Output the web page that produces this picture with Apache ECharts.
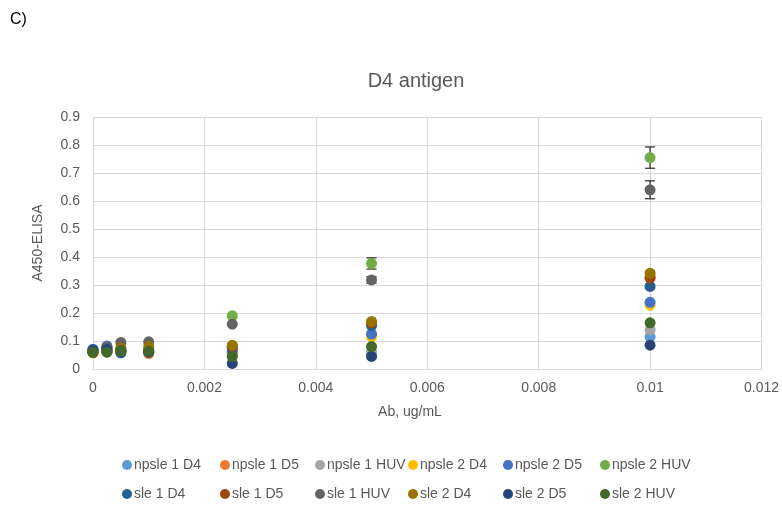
<!DOCTYPE html>
<html><head><meta charset="utf-8">
<script src="https://cdn.jsdelivr.net/npm/echarts@6/dist/echarts.min.js"></script>
<style>html,body{margin:0;padding:0;background:#fff;overflow:hidden}#c{width:782px;height:510px}</style>
</head><body><div id="c"></div>
<script>
const xValues = [0, 0.00025, 0.0005, 0.001, 0.0025, 0.005, 0.01];
const seriesNames = ['npsle 1 D4','npsle 1 D5','npsle 1 HUV','npsle 2 D4','npsle 2 D5','npsle 2 HUV',
                     'sle 1 D4','sle 1 D5','sle 1 HUV','sle 2 D4','sle 2 D5','sle 2 HUV'];
const npsle1D4  = [0.065, 0.070, 0.060, 0.065, 0.055, 0.055, 0.115];
const npsle1D5  = [0.060, 0.065, 0.065, 0.055, 0.080, 0.160, 0.330];
const npsle1HUV = [0.065, 0.070, 0.070, 0.070, 0.050, 0.060, 0.140];
const npsle2D4  = [0.060, 0.065, 0.060, 0.060, 0.060, 0.115, 0.228];
const npsle2D5  = [0.070, 0.082, 0.065, 0.065, 0.065, 0.125, 0.238];
const npsle2HUV = [0.060, 0.060, 0.065, 0.065, 0.190, 0.377, 0.755];
const sle1D4    = [0.070, 0.075, 0.058, 0.065, 0.075, 0.155, 0.295];
const sle1D5    = [0.060, 0.065, 0.065, 0.060, 0.080, 0.165, 0.325];
const sle1HUV   = [0.065, 0.078, 0.095, 0.097, 0.160, 0.318, 0.640];
const sle2D4    = [0.058, 0.065, 0.075, 0.080, 0.085, 0.170, 0.342];
const sle2D5    = [0.065, 0.070, 0.065, 0.060, 0.020, 0.045, 0.085];
const sle2HUV   = [0.060, 0.060, 0.065, 0.063, 0.045, 0.080, 0.165];
const errNpsle2HUV = [0, 0, 0, 0, 0, 0.020, 0.038];
const errSle1HUV   = [0, 0, 0, 0, 0, 0.012, 0.032];
const xTickLabels = ['0','0.002','0.004','0.006','0.008','0.01','0.012'];
const yTickLabels = ['0','0.1','0.2','0.3','0.4','0.5','0.6','0.7','0.8','0.9'];

const allValues = [npsle1D4,npsle1D5,npsle1HUV,npsle2D4,npsle2D5,npsle2HUV,sle1D4,sle1D5,sle1HUV,sle2D4,sle2D5,sle2HUV];
const colors = ['#5B9BD5','#ED7D31','#A5A5A5','#FFC000','#4472C4','#70AD47',
                '#255E91','#9E480E','#636363','#997300','#264478','#43682B'];
const FONT = 'Liberation Sans';
const TXT = '#595959';

const scatterSeries = seriesNames.map((n, i) => ({
  name: n, type: 'scatter', symbol: 'circle', symbolSize: 11,
  itemStyle: { color: colors[i], opacity: 1 },
  data: xValues.map((x, j) => [x, allValues[i][j]]),
  z: 3
}));

function errSeries(vals, errs) {
  return {
    type: 'custom', z: 2, silent: true,
    data: xValues.map((x, j) => [x, vals[j] - errs[j], vals[j] + errs[j]]).filter((d, j) => errs[j] > 0),
    renderItem: function (params, api) {
      const lo = api.coord([api.value(0), api.value(1)]);
      const hi = api.coord([api.value(0), api.value(2)]);
      const w = 5;
      const st = { stroke: '#262626', lineWidth: 1.2 };
      return { type: 'group', children: [
        { type: 'line', shape: { x1: lo[0], y1: lo[1], x2: hi[0], y2: hi[1] }, style: st },
        { type: 'line', shape: { x1: lo[0]-w, y1: lo[1], x2: lo[0]+w, y2: lo[1] }, style: st },
        { type: 'line', shape: { x1: hi[0]-w, y1: hi[1], x2: hi[0]+w, y2: hi[1] }, style: st }
      ]};
    }
  };
}

const legendX = [117, 215, 310, 403, 498, 595];
const legends = seriesNames.map((n, i) => ({
  data: [n], left: legendX[i % 6], top: i < 6 ? 453 : 482,
  icon: 'circle', itemWidth: 10, itemHeight: 10, itemGap: 4,
  textStyle: { color: TXT, fontSize: 14, fontFamily: FONT, padding: [0,0,0,-3] }
}));

const chart = echarts.init(document.getElementById('c'), null, { renderer: 'canvas', width: 782, height: 510 });
chart.setOption({
  animation: false,
  backgroundColor: '#fff',
  title: { text: 'D4 antigen', left: 411, top: 66, textAlign: 'center',
    textStyle: { color: TXT, fontSize: 20, fontWeight: 'normal', fontFamily: FONT } },
  legend: legends,
  grid: { left: 93, right: 11, top: 117, bottom: 141, containLabel: false },
  xAxis: {
    type: 'value', min: 0, max: 0.012, interval: 0.002,
    axisLine: { show: true, lineStyle: { color: '#D9D9D9' } },
    axisTick: { show: false },
    splitLine: { show: true, lineStyle: { color: '#D9D9D9', width: 1 } },
    axisLabel: { color: TXT, fontSize: 14, fontFamily: FONT, margin: 12,
      formatter: v => xTickLabels[Math.round(v / 0.002)] }
  },
  yAxis: {
    type: 'value', min: 0, max: 0.9, interval: 0.1,
    name: 'A450-ELISA', nameLocation: 'middle', nameGap: 48, nameRotate: 90,
    nameTextStyle: { color: TXT, fontSize: 14, fontFamily: FONT },
    axisLine: { show: false }, axisTick: { show: false },
    splitLine: { show: true, lineStyle: { color: '#D9D9D9', width: 1 } },
    axisLabel: { color: TXT, fontSize: 14, fontFamily: FONT, margin: 13,
      formatter: v => yTickLabels[Math.round(v / 0.1)] }
  },
  graphic: [
    { type: 'text', left: 10, top: 12, style: { text: 'C)', fill: '#000', font: '16px "Liberation Sans"' } },
    { type: 'text', x: 410, y: 405, style: { text: 'Ab, ug/mL', fill: TXT, font: '14px "Liberation Sans"', textAlign: 'center' } }
  ],
  series: scatterSeries.concat([errSeries(npsle2HUV, errNpsle2HUV), errSeries(sle1HUV, errSle1HUV)])
});
</script></body></html>
